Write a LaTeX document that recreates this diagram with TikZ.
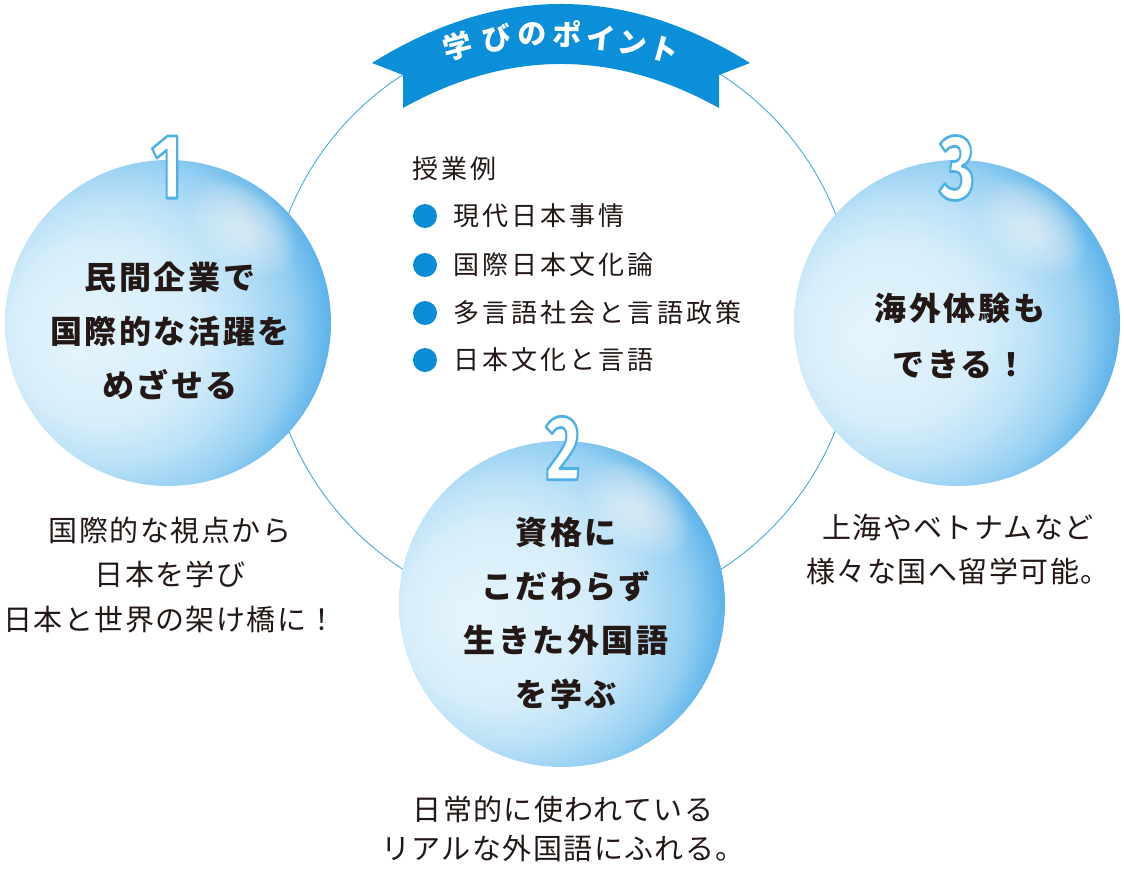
\documentclass[tikz,border=0pt]{standalone}
\usepackage{fontspec}
\newfontfamily\jpbub[LetterSpace=8]{Noto Sans CJK JP}
\newfontfamily\jplist[LetterSpace=12]{Noto Sans CJK JP}
\newfontfamily\jpbody[LetterSpace=5]{Noto Sans CJK JP}
\newfontfamily\jpban{Noto Sans CJK JP}
\newfontfamily\digitfont{Fira Sans}
\usetikzlibrary{calc}
\definecolor{ring}{HTML}{48A9E0}
\definecolor{banner}{HTML}{0A8FD8}
\definecolor{ink}{HTML}{231815}
\definecolor{dot}{HTML}{0A8CD6}
\definecolor{numline}{HTML}{4FB0E6}
\definecolor{bA}{HTML}{E6F5FC}
\definecolor{bB}{HTML}{D6EEFA}
\definecolor{bC}{HTML}{BDE2F7}
\definecolor{bD}{HTML}{94CFF2}
\definecolor{bE}{HTML}{62B5EA}
\definecolor{bF}{HTML}{50ACE7}
\pgfdeclareradialshading{bubble}{\pgfpoint{-14bp}{-2bp}}{color(0bp)=(bA); color(14bp)=(bB); color(20bp)=(bC); color(26bp)=(bD); color(30bp)=(bE); color(33bp)=(bF); color(50bp)=(bF)}
\newcommand\outlinedtext[1]{\special{pdf:code q 2 Tr 2.8 w 1 j 0.31 0.69 0.90 RG}#1\special{pdf:code Q}}
\newcommand\bubglow[2]{%
  \begin{scope}[shift={(#1+75,#2-95)}, rotate=-38]
    \foreach \k in {0,...,19}
      \fill[white, fill opacity=0.045] (0,0) ellipse [x radius={60pt-2.6pt*\k}, y radius={40pt-1.75pt*\k}];
  \end{scope}}
\begin{document}
\begin{tikzpicture}[x=1pt,y=-1pt,
  bub/.style={circle, minimum size=326pt, inner sep=0pt, shade, shading=bubble},
  bubtext/.style={font=\jpbub\bfseries\fontsize{32}{54}\selectfont, text=ink, align=center, inner sep=0pt},
  bodytext/.style={font=\jpbody\fontsize{29}{44.5}\selectfont, text=ink, align=center, inner sep=0pt},
  listtext/.style={font=\jplist\fontsize{26}{30}\selectfont, text=ink, anchor=west, inner sep=0pt},
  dotmark/.style={circle, fill=dot, minimum size=24pt, inner sep=0pt},
  bantext/.style={font=\jpban\bfseries\fontsize{29}{29}\selectfont, text=white, inner sep=0pt},
  numtext/.style={font=\digitfont\bfseries\fontsize{92}{92}\selectfont, text=white, inner sep=0pt, xscale=0.74}]
\useasboundingbox (0,0) rectangle (1124,870);
\fill[white] (0,0) rectangle (1124,870);
% ring
\draw[ring, line width=0.9pt] (562,322) circle [radius=294pt];
% banner
\fill[banner] (372,63) .. controls (498,-15.7) and (624,-15.7) .. (750,63)
  -- (719,75) -- (719,108) .. controls (613.7,49.3) and (508.3,49.3) .. (403,108)
  -- (403,75) -- cycle;
\foreach \c/\x/\y/\r [count=\i] in {学/458/46/15, び/497/38/9, の/532/34/4, ポ/567/34/-1, イ/601/38/-6, ン/633/44/-10, ト/664/50/-15}
  \node[bantext, rotate=\r] (bt\i) at (\x,\y) {\c};
% bubbles
\node[bub] (b1) at (168,323) {};
\node[bub] (b2) at (562,604) {};
\node[bub] (b3) at (957,323) {};
\bubglow{168}{323}
\bubglow{562}{604}
\bubglow{957}{323}
% numbers
\node[numtext] (n1) at (167,167) {\outlinedtext{1}};
\node[numtext] (n2) at (563,448) {\outlinedtext{2}};
\node[numtext] (n3) at (957,168) {\outlinedtext{3}};
% bubble texts
\node[bubtext] (t1) at (170,331) {民間企業で\\国際的な活躍を\\めざせる};
\node[bubtext] (t2) at (566,613) {資格に\\こだわらず\\生きた外国語\\を学ぶ};
\node[bubtext, font=\jpbub\bfseries\fontsize{32}{56}\selectfont] (t3) at (960,336) {海外体験も\\できる！};
% lower texts
\node[bodytext] (d1) at (170,575) {国際的な視点から\\日本を学び\\日本と世界の架け橋に！};
\node[bodytext, font=\jpbody\fontsize{29}{44}\selectfont] (d3) at (958,549) {上海やベトナムなど\\様々な国へ留学可能。};
\node[bodytext, font=\jpbody\fontsize{29}{38.5}\selectfont] (d2) at (563,829) {日常的に使われている\\リアルな外国語にふれる。};
% list
\node[listtext] (lh) at (412,169) {授業例};
\foreach \t/\y [count=\i] in {現代日本事情/216, 国際日本文化論/265, 多言語社会と言語政策/313, 日本文化と言語/360}{
  \node[dotmark] (dm\i) at (425,\y) {};
  \node[listtext] (li\i) at (453,\y) {\t};
}
\end{tikzpicture}
\end{document}
